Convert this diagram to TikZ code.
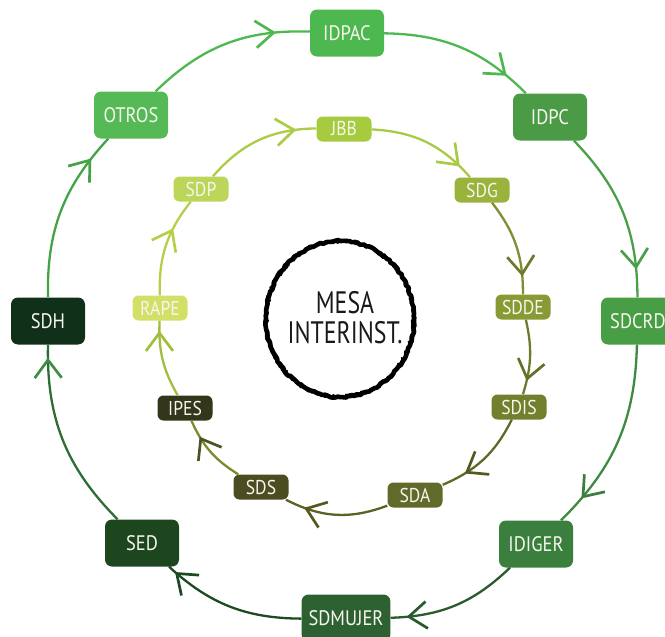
\documentclass[tikz,border=0pt]{standalone}
\usepackage{fontspec}
\newfontfamily\lblfont{PT Sans}[FakeStretch=0.88]
\newfontfamily\mesafont{PT Sans}[FakeStretch=0.77]
\usetikzlibrary{arrows.meta,decorations.markings,decorations.pathmorphing}
% node colours
\definecolor{cIDPAC}{HTML}{4DB84F}
\definecolor{cIDPC}{HTML}{4A9A46}
\definecolor{cSDCRD}{HTML}{489E44}
\definecolor{cIDIGER}{HTML}{3B7F3E}
\definecolor{cSDMUJER}{HTML}{2E6132}
\definecolor{cSED}{HTML}{1B461E}
\definecolor{cSDH}{HTML}{11301A}
\definecolor{cOTROS}{HTML}{55B955}
\definecolor{cJBB}{HTML}{A6CB3E}
\definecolor{cSDG}{HTML}{9AB33C}
\definecolor{cSDDE}{HTML}{879A34}
\definecolor{cSDIS}{HTML}{727F2D}
\definecolor{cSDA}{HTML}{626A2B}
\definecolor{cSDS}{HTML}{4B4D20}
\definecolor{cIPES}{HTML}{33361A}
\definecolor{cRAPE}{HTML}{D3E067}
\definecolor{cSDP}{HTML}{BCD65A}
\definecolor{labeltext}{HTML}{F6F6EE}
% connector colours
\definecolor{l1}{HTML}{4DB84F}
\definecolor{l2}{HTML}{4AA048}
\definecolor{l3}{HTML}{3F8A40}
\definecolor{l4}{HTML}{2A5A2E}
\definecolor{l5}{HTML}{1C4A22}
\definecolor{l6}{HTML}{2E6E35}
\definecolor{a6}{HTML}{3E8E45}
\definecolor{l7}{HTML}{45A347}
\definecolor{i1}{HTML}{A8CB45}
\definecolor{i2}{HTML}{7F8E32}
\definecolor{j2}{HTML}{6C7A2B}
\definecolor{i3}{HTML}{6E7B2C}
\definecolor{j3}{HTML}{66702A}
\definecolor{i4}{HTML}{5F6A28}
\definecolor{j4}{HTML}{55591F}
\definecolor{i5}{HTML}{5C6226}
\definecolor{i6}{HTML}{7C8A2E}
\definecolor{j6}{HTML}{4E5322}
\definecolor{i7}{HTML}{A2BE3E}
\definecolor{i8}{HTML}{B4CF4A}
\definecolor{i9}{HTML}{AACD45}
\tikzset{
  outerbox/.style={fill=#1, rounded corners=7pt, minimum width=74pt, minimum height=47pt,
    inner xsep=7pt, text=labeltext, font=\lblfont\fontsize{21}{24}\selectfont},
  innerbox/.style={fill=#1, rounded corners=6pt, minimum width=55pt, minimum height=25pt,
    inner xsep=5pt, inner ysep=0pt, text=labeltext, font=\lblfont\fontsize{20}{24}\selectfont},
  link/.style n args={3}{draw=#1, line width=2.3pt,
    postaction={decorate, decoration={markings,
      mark=at position -#3pt with {\arrow[color=#2]{Straight Barb[length=18pt,width=27pt,line width=2.7pt]}}}}}
}
\begin{document}
\begin{tikzpicture}[x=1pt,y=-1pt]
\useasboundingbox (0,0) rectangle (665,637);
% outer ring
\node[outerbox=cIDPAC] (IDPAC) at (347,33) {IDPAC};
\node[outerbox=cIDPC] (IDPC) at (550,117) {IDPC};
\node[outerbox=cSDCRD] (SDCRD) at (638,321) {SDCRD};
\node[outerbox=cIDIGER] (IDIGER) at (536,544) {IDIGER};
\node[outerbox=cSDMUJER] (SDMUJER) at (346,618) {SDMUJER};
\node[outerbox=cSED] (SED) at (142,543) {SED};
\node[outerbox=cSDH] (SDH) at (48,321) {SDH};
\node[outerbox=cOTROS] (OTROS) at (131,115) {OTROS};
% inner ring
\node[innerbox=cJBB] (JBB) at (344,129) {JBB};
\node[innerbox=cSDG] (SDG) at (482,190) {SDG};
\node[innerbox=cSDDE] (SDDE) at (523,307) {SDDE};
\node[innerbox=cSDIS] (SDIS) at (519,407) {SDIS};
\node[innerbox=cSDA] (SDA) at (415,495) {SDA};
\node[innerbox=cSDS] (SDS) at (261,487) {SDS};
\node[innerbox=cIPES] (IPES) at (185,408) {IPES};
\node[innerbox=cRAPE] (RAPE) at (160,308) {RAPE};
\node[innerbox=cSDP] (SDP) at (201,189) {SDP};
% centre
\coordinate (mc) at (340,319);
\pgfmathsetseed{7}
\draw[line width=4.6pt, decorate, decoration={random steps, segment length=3pt, amplitude=0.9pt}, line join=round] (mc) ellipse [x radius=74, y radius=78];
\draw[line width=2.2pt, decorate, decoration={random steps, segment length=2pt, amplitude=1.4pt}, line join=round] (mc) ellipse [x radius=74.5, y radius=78.5];
\draw[line width=1.2pt, decorate, decoration={random steps, segment length=2pt, amplitude=1.6pt}, line join=round] (mc) ellipse [x radius=73, y radius=77];
\node[align=center, font=\mesafont\fontsize{31}{30}\selectfont, text=black!90] (MESA) at (345,318) {MESA\\INTERINST.};
% outer connectors
\draw[link={l1}{l1}{26}] (IDPAC) to[bend left=22] (IDPC);
\draw[link={l2}{l2}{28}] (IDPC) to[bend left=22] (SDCRD);
\draw[link={l3}{cIDIGER}{30}] (SDCRD) to[bend left=22] (IDIGER);
\draw[link={l4}{l4}{16}] (IDIGER) to[bend left=21] (SDMUJER);
\draw[link={l5}{l5}{8}] (SDMUJER) to[bend left=21] (SED);
\draw[link={l6}{a6}{13}] (SED) to[bend left=23] (SDH);
\draw[link={l7}{l7}{26}] (SDH) to[bend left=22] (OTROS);
\draw[link={l1}{l1}{34}] (OTROS) to[bend left=23] (IDPAC);
% inner connectors
\draw[link={i1}{i1}{15}] (JBB) to[bend left=23] (SDG);
\draw[link={i2}{j2}{18}] (SDG) to[bend left=19] (SDDE);
\draw[link={i3}{j3}{14}] (SDDE) to[bend left=15] (SDIS);
\draw[link={i4}{j4}{25}] (SDIS) to[bend left=20] (SDA);
\draw[link={i5}{j4}{20}] (SDA) to[bend left=24] (SDS);
\draw[link={i6}{j6}{18}] (SDS) to[bend left=17] (IPES);
\draw[link={i7}{i7}{10}] (IPES) to[bend left=16] (RAPE);
\draw[link={i8}{i8}{32}] (RAPE) to[bend left=20] (SDP);
\draw[link={i9}{i9}{20}] (SDP) to[bend left=24] (JBB);
\end{tikzpicture}
\end{document}
